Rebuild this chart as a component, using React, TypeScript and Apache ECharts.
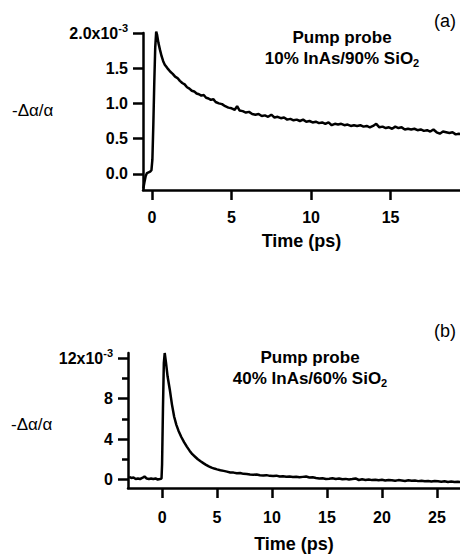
import React, { useEffect, useRef } from 'react';
import * as echarts from 'echarts';

const FONT = '"Liberation Sans", Arial, Helvetica, sans-serif';

// Panel (a): 10% InAs / 90% SiO2  [time (ps), -Δα/α (x10^-3)]
const seriesA: [number, number][] = [
  [-0.55, -0.21], [-0.48, -0.12], [-0.4, -0.03], [-0.32, 0.01], [-0.22, 0.02], [-0.12, 0.03],
  [-0.04, 0.05], [0.02, 0.2], [0.08, 0.7], [0.14, 1.3], [0.2, 1.8], [0.26, 2.02], [0.32, 1.97],
  [0.4, 1.86], [0.5, 1.76], [0.6, 1.67], [0.7, 1.6], [0.8, 1.55], [0.9, 1.52], [1.0, 1.49],
  [1.15, 1.45], [1.3, 1.42], [1.45, 1.38], [1.6, 1.36], [1.75, 1.32], [1.9, 1.29], [2.05, 1.27],
  [2.2, 1.23], [2.35, 1.21], [2.5, 1.18], [2.65, 1.17], [2.8, 1.14], [2.95, 1.13], [3.1, 1.11],
  [3.25, 1.12], [3.4, 1.08], [3.55, 1.07], [3.7, 1.05], [3.85, 1.06], [4.0, 1.02], [4.2, 1.0],
  [4.4, 0.99], [4.6, 0.96], [4.8, 0.94], [5.0, 0.93], [5.2, 0.91], [5.35, 0.96], [5.5, 0.9],
  [5.7, 0.89], [5.9, 0.87], [6.1, 0.88], [6.3, 0.85], [6.5, 0.84], [6.7, 0.85], [6.9, 0.82],
  [7.1, 0.83], [7.3, 0.81], [7.5, 0.84], [7.7, 0.8], [7.9, 0.81], [8.1, 0.79], [8.3, 0.8],
  [8.5, 0.77], [8.7, 0.78], [8.9, 0.76], [9.1, 0.77], [9.3, 0.75], [9.5, 0.77], [9.7, 0.74],
  [9.9, 0.75], [10.1, 0.73], [10.3, 0.74], [10.5, 0.72], [10.7, 0.73], [10.9, 0.71], [11.1, 0.73],
  [11.3, 0.69], [11.5, 0.71], [11.7, 0.7], [11.9, 0.71], [12.1, 0.69], [12.3, 0.7], [12.5, 0.68],
  [12.7, 0.69], [12.9, 0.68], [13.1, 0.69], [13.3, 0.67], [13.5, 0.68], [13.7, 0.66], [13.9, 0.68],
  [14.1, 0.71], [14.3, 0.66], [14.5, 0.67], [14.7, 0.65], [14.9, 0.66], [15.1, 0.64], [15.3, 0.67],
  [15.5, 0.65], [15.7, 0.66], [15.9, 0.63], [16.1, 0.64], [16.3, 0.63], [16.5, 0.64], [16.7, 0.62],
  [16.9, 0.63], [17.1, 0.61], [17.3, 0.62], [17.5, 0.6], [17.7, 0.63], [17.9, 0.59], [18.1, 0.57],
  [18.3, 0.6], [18.5, 0.59], [18.7, 0.58], [18.9, 0.59], [19.1, 0.56], [19.3, 0.57], [19.5, 0.56],
];

// Panel (b): 40% InAs / 60% SiO2
const seriesB: [number, number][] = [
  [-3.0, 0.25], [-2.8, 0.15], [-2.6, 0.2], [-2.4, 0.05], [-2.2, 0.1], [-2.0, 0.05], [-1.8, 0.15],
  [-1.6, 0.3], [-1.4, 0.1], [-1.2, 0.05], [-1.0, 0.1], [-0.8, 0.05], [-0.6, 0.1], [-0.4, 0.0],
  [-0.2, 0.05], [-0.05, 0.1], [0.0, 1.5], [0.08, 7.0], [0.16, 11.5], [0.24, 12.5], [0.35, 11.6],
  [0.5, 10.2], [0.7, 8.9], [0.9, 7.4], [1.1, 6.2], [1.3, 5.4], [1.5, 4.8], [1.75, 4.2], [2.0, 3.7],
  [2.25, 3.25], [2.5, 2.85], [2.75, 2.5], [3.0, 2.25], [3.25, 2.0], [3.5, 1.8], [3.75, 1.62],
  [4.0, 1.45], [4.25, 1.3], [4.5, 1.18], [4.75, 1.08], [5.0, 1.0], [5.3, 0.92], [5.6, 0.85],
  [5.9, 0.78], [6.2, 0.7], [6.5, 0.68], [6.8, 0.62], [7.1, 0.65], [7.4, 0.56], [7.7, 0.55],
  [8.0, 0.5], [8.3, 0.47], [8.6, 0.5], [8.9, 0.42], [9.2, 0.4], [9.5, 0.43], [9.8, 0.36],
  [10.1, 0.35], [10.4, 0.38], [10.7, 0.3], [11.0, 0.33], [11.3, 0.28], [11.6, 0.3], [11.9, 0.25],
  [12.2, 0.28], [12.5, 0.22], [12.8, 0.26], [13.1, 0.3], [13.4, 0.2], [13.7, 0.22], [14.0, 0.15],
  [14.3, 0.1], [14.6, 0.12], [14.9, 0.05], [15.2, 0.08], [15.5, 0.12], [15.8, 0.05], [16.1, 0.1],
  [16.4, 0.02], [16.7, 0.06], [17.0, 0.0], [17.3, 0.04], [17.6, 0.1], [17.9, -0.05], [18.2, 0.02],
  [18.5, -0.04], [18.8, 0.0], [19.1, -0.06], [19.4, -0.02], [19.7, -0.08], [20.0, -0.03],
  [20.3, -0.1], [20.6, -0.05], [20.9, -0.08], [21.2, -0.12], [21.5, -0.06], [21.8, -0.1],
  [22.1, -0.14], [22.4, -0.08], [22.7, -0.12], [23.0, -0.1], [23.3, -0.16], [23.6, -0.12],
  [23.9, -0.18], [24.2, -0.14], [24.5, -0.2], [24.8, -0.15], [25.1, -0.18], [25.4, -0.22],
  [25.7, -0.17], [26.0, -0.24], [26.3, -0.2], [26.6, -0.25], [26.9, -0.22], [27.2, -0.26],
];

const xTicksA = [0, 5, 10, 15];
const yTicksA = [0, 0.5, 1.0, 1.5, 2.0];
const xTicksB = [0, 5, 10, 15, 20, 25];
const yTicksB = [0, 4, 8, 12];
const yMinorTicksB = [2, 6, 10];

const axisLineStyle = { color: '#000', width: 2.5 };
const TICK_FS = 16;

function xAxis(gridIndex: number, min: number, max: number, ticks: number[], margin: number, nameGap: number) {
  return {
    type: 'value', gridIndex, min, max,
    axisLine: { show: true, onZero: false, lineStyle: axisLineStyle },
    axisTick: { show: true, inside: false, length: 10, lineStyle: axisLineStyle, customValues: ticks },
    axisLabel: {
      show: true, customValues: ticks, margin, color: '#000', fontWeight: 'bold',
      fontSize: TICK_FS, fontFamily: FONT, formatter: (v: number) => String(v),
    },
    splitLine: { show: false },
    name: 'Time (ps)', nameLocation: 'middle', nameGap,
    nameTextStyle: { color: '#000', fontWeight: 'bold', fontSize: 18, fontFamily: FONT },
  };
}

function yAxis(gridIndex: number, min: number, max: number, ticks: number[], fmt: (v: number) => string) {
  return {
    type: 'value', gridIndex, min, max,
    axisLine: { show: true, onZero: false, lineStyle: axisLineStyle },
    axisTick: { show: true, inside: false, length: 10, lineStyle: axisLineStyle, customValues: ticks },
    axisLabel: {
      show: true, customValues: ticks, margin: 15, color: '#000', fontWeight: 'bold',
      fontSize: TICK_FS, fontFamily: FONT, formatter: fmt,
      rich: {
        m: { color: '#000', fontWeight: 'bold', fontSize: TICK_FS, fontFamily: FONT },
        s: { color: '#000', fontWeight: 'bold', fontSize: 11, fontFamily: FONT, padding: [0, 0, 11, 0] },
      },
    },
    splitLine: { show: false },
  };
}

export default function App() {
  const ref = useRef<HTMLDivElement>(null);
  useEffect(() => {
    document.body.style.margin = '0';
    const chart = echarts.init(ref.current!, null, { renderer: 'svg' });
    const fmtA = (v: number) => (v === 2 ? '{m|2.0x10}{s|-3}' : '{m|' + v.toFixed(1) + '}');
    const fmtB = (v: number) => (v === 12 ? '{m|12x10}{s|-3}' : '{m|' + String(v) + '}');
    const textStyle = (extra: any) => ({ fill: '#000', fontFamily: FONT, ...extra });
    const subRich = {
      m: { fontSize: 17, fontWeight: 'bold', fontFamily: FONT, fill: '#000' },
      s: { fontSize: 11, fontWeight: 'bold', fontFamily: FONT, fill: '#000', padding: [9, 0, 0, 0] },
    };
    chart.setOption({
      animation: false,
      backgroundColor: '#fff',
      grid: [
        { left: 143, top: 33, width: 317, height: 157 },
        { left: 128, top: 353, width: 332, height: 143 },
      ],
      xAxis: [xAxis(0, -0.57, 19.37, xTicksA, 19, 42), xAxis(1, -3.1, 27.1, xTicksB, 21, 47)],
      yAxis: [
        yAxis(0, -0.23, 2.0, yTicksA, fmtA),
        yAxis(1, -0.84, 12.5, yTicksB, fmtB),
        {
          type: 'value', gridIndex: 1, min: -0.84, max: 12.5, position: 'left',
          axisLine: { show: false, onZero: false },
          axisTick: { show: true, inside: false, length: 6, lineStyle: axisLineStyle, customValues: yMinorTicksB },
          axisLabel: { show: false },
          splitLine: { show: false },
        },
      ],
      series: [
        {
          type: 'line', xAxisIndex: 0, yAxisIndex: 0, data: seriesA, showSymbol: false, clip: false,
          lineStyle: { color: '#000', width: 2.5 },
        },
        {
          type: 'line', xAxisIndex: 1, yAxisIndex: 1, data: seriesB, showSymbol: false, clip: false,
          lineStyle: { color: '#000', width: 2.5 },
        },
      ],
      graphic: [
        { type: 'text', left: 12, top: 102, style: textStyle({ text: '-Δα/α', fontSize: 17 }) },
        { type: 'text', left: 11, top: 416, style: textStyle({ text: '-Δα/α', fontSize: 17 }) },
        { type: 'text', left: 434, top: 12, style: textStyle({ text: '(a)', fontSize: 18 }) },
        { type: 'text', left: 434, top: 322, style: textStyle({ text: '(b)', fontSize: 18 }) },
        {
          type: 'text', x: 342, y: 37,
          style: textStyle({ text: 'Pump probe', fontSize: 17, fontWeight: 'bold', align: 'center', verticalAlign: 'middle' }),
        },
        {
          type: 'text', x: 342, y: 58,
          style: textStyle({
            text: '{m|10% InAs/90% SiO}{s|2}', align: 'center', verticalAlign: 'middle', rich: subRich,
          }),
        },
        {
          type: 'text', x: 310, y: 357,
          style: textStyle({ text: 'Pump probe', fontSize: 17, fontWeight: 'bold', align: 'center', verticalAlign: 'middle' }),
        },
        {
          type: 'text', x: 310, y: 378,
          style: textStyle({
            text: '{m|40% InAs/60% SiO}{s|2}', align: 'center', verticalAlign: 'middle', rich: subRich,
          }),
        },
      ],
    });
    return () => chart.dispose();
  }, []);
  return <div ref={ref} style={{ width: 460, height: 554, position: 'absolute', left: 0, top: 0 }} />;
}
